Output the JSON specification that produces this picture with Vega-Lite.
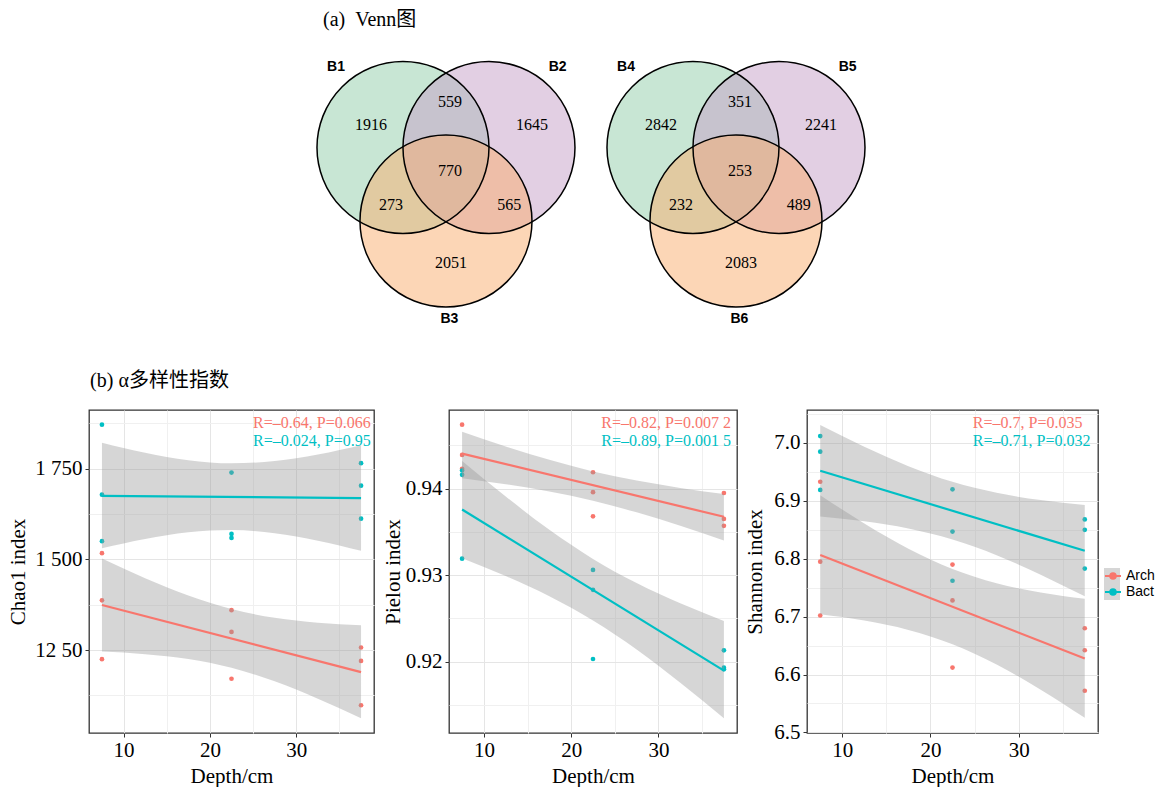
{
  "$schema": "https://vega.github.io/schema/vega-lite/v6.json",
  "background": "white",
  "padding": {"left": 7, "top": 10, "right": 0, "bottom": 0},
  "spacing": 36,
  "resolve": {"scale": {"fill": "independent"}},
  "datasets": {
    "venn": [
      {"venn": "A", "kind": "circle", "pos": "a", "x": -0.5, "y": 0},
      {"venn": "A", "kind": "circle", "pos": "b", "x": 0.5, "y": 0},
      {"venn": "A", "kind": "circle", "pos": "c", "x": 0, "y": -0.855},
      {"venn": "A", "kind": "label", "name": "B1", "x": -1.279, "y": 0.94},
      {"venn": "A", "kind": "label", "name": "B2", "x": 1.299, "y": 0.94},
      {"venn": "A", "kind": "label", "name": "B3", "x": 0.04, "y": -1.998},
      {"venn": "A", "kind": "count", "n": 1916, "x": -0.872, "y": 0.262},
      {"venn": "A", "kind": "count", "n": 559, "x": 0.047, "y": 0.526},
      {"venn": "A", "kind": "count", "n": 1645, "x": 1.0, "y": 0.262},
      {"venn": "A", "kind": "count", "n": 770, "x": 0.047, "y": -0.27},
      {"venn": "A", "kind": "count", "n": 273, "x": -0.64, "y": -0.669},
      {"venn": "A", "kind": "count", "n": 565, "x": 0.736, "y": -0.669},
      {"venn": "A", "kind": "count", "n": 2051, "x": 0.058, "y": -1.34},
      {"venn": "B", "kind": "circle", "pos": "a", "x": -0.5, "y": 0},
      {"venn": "B", "kind": "circle", "pos": "b", "x": 0.5, "y": 0},
      {"venn": "B", "kind": "circle", "pos": "c", "x": 0, "y": -0.855},
      {"venn": "B", "kind": "label", "name": "B4", "x": -1.279, "y": 0.94},
      {"venn": "B", "kind": "label", "name": "B5", "x": 1.299, "y": 0.94},
      {"venn": "B", "kind": "label", "name": "B6", "x": 0.04, "y": -1.998},
      {"venn": "B", "kind": "count", "n": 2842, "x": -0.872, "y": 0.262},
      {"venn": "B", "kind": "count", "n": 351, "x": 0.047, "y": 0.526},
      {"venn": "B", "kind": "count", "n": 2241, "x": 0.988, "y": 0.262},
      {"venn": "B", "kind": "count", "n": 253, "x": 0.047, "y": -0.27},
      {"venn": "B", "kind": "count", "n": 232, "x": -0.64, "y": -0.669},
      {"venn": "B", "kind": "count", "n": 489, "x": 0.729, "y": -0.669},
      {"venn": "B", "kind": "count", "n": 2083, "x": 0.058, "y": -1.34}
    ],
    "chao1": [
      {"group": "Arch", "depth": 7.5, "value": 1517}, {"group": "Arch", "depth": 7.5, "value": 1387}, {"group": "Arch", "depth": 7.5, "value": 1225},
      {"group": "Arch", "depth": 22.5, "value": 1360}, {"group": "Arch", "depth": 22.5, "value": 1300}, {"group": "Arch", "depth": 22.5, "value": 1171},
      {"group": "Arch", "depth": 37.5, "value": 1257}, {"group": "Arch", "depth": 37.5, "value": 1220}, {"group": "Arch", "depth": 37.5, "value": 1098},
      {"group": "Bact", "depth": 7.5, "value": 1871}, {"group": "Bact", "depth": 7.5, "value": 1678}, {"group": "Bact", "depth": 7.5, "value": 1550},
      {"group": "Bact", "depth": 22.5, "value": 1739}, {"group": "Bact", "depth": 22.5, "value": 1570}, {"group": "Bact", "depth": 22.5, "value": 1559},
      {"group": "Bact", "depth": 37.5, "value": 1765}, {"group": "Bact", "depth": 37.5, "value": 1703}, {"group": "Bact", "depth": 37.5, "value": 1612}
    ],
    "chao1_band": [
      {"group": "Arch", "depth": 7.5, "lo": 1245.9, "hi": 1502.1}, {"group": "Arch", "depth": 12.5, "lo": 1238.7, "hi": 1447.9},
      {"group": "Arch", "depth": 17.5, "lo": 1225.2, "hi": 1400.2}, {"group": "Arch", "depth": 22.5, "lo": 1201, "hi": 1363},
      {"group": "Arch", "depth": 27.5, "lo": 1163.8, "hi": 1338.8}, {"group": "Arch", "depth": 32.5, "lo": 1116.1, "hi": 1325.3},
      {"group": "Arch", "depth": 37.5, "lo": 1061.9, "hi": 1318.1},
      {"group": "Bact", "depth": 7.5, "lo": 1530.5, "hi": 1821.5}, {"group": "Bact", "depth": 12.5, "lo": 1556.0, "hi": 1793.6},
      {"group": "Bact", "depth": 17.5, "lo": 1574.3, "hi": 1773.1}, {"group": "Bact", "depth": 22.5, "lo": 1580.5, "hi": 1764.5},
      {"group": "Bact", "depth": 27.5, "lo": 1571.9, "hi": 1770.7}, {"group": "Bact", "depth": 32.5, "lo": 1551.4, "hi": 1789.0},
      {"group": "Bact", "depth": 37.5, "lo": 1523.5, "hi": 1814.5}
    ],
    "chao1_txt": [
      {"group": "Arch", "label": "R=–0.64, P=0.066", "x": 25, "y": 1875},
      {"group": "Bact", "label": "R=–0.024, P=0.95", "x": 25, "y": 1825}
    ],
    "pielou": [
      {"group": "Arch", "depth": 7.5, "value": 0.9474}, {"group": "Arch", "depth": 7.5, "value": 0.9439}, {"group": "Arch", "depth": 7.5, "value": 0.9423},
      {"group": "Arch", "depth": 22.5, "value": 0.9419}, {"group": "Arch", "depth": 22.5, "value": 0.9396}, {"group": "Arch", "depth": 22.5, "value": 0.9368},
      {"group": "Arch", "depth": 37.5, "value": 0.9395}, {"group": "Arch", "depth": 37.5, "value": 0.9365}, {"group": "Arch", "depth": 37.5, "value": 0.9357},
      {"group": "Bact", "depth": 7.5, "value": 0.9421}, {"group": "Bact", "depth": 7.5, "value": 0.9416}, {"group": "Bact", "depth": 7.5, "value": 0.9319},
      {"group": "Bact", "depth": 22.5, "value": 0.9306}, {"group": "Bact", "depth": 22.5, "value": 0.9283}, {"group": "Bact", "depth": 22.5, "value": 0.9203},
      {"group": "Bact", "depth": 37.5, "value": 0.9213}, {"group": "Bact", "depth": 37.5, "value": 0.9193}, {"group": "Bact", "depth": 37.5, "value": 0.9191}
    ],
    "pielou_band": [
      {"group": "Arch", "depth": 7.5, "lo": 0.94121, "hi": 0.94659}, {"group": "Arch", "depth": 12.5, "lo": 0.94051, "hi": 0.94489},
      {"group": "Arch", "depth": 17.5, "lo": 0.93966, "hi": 0.94334}, {"group": "Arch", "depth": 22.5, "lo": 0.9386, "hi": 0.942},
      {"group": "Arch", "depth": 27.5, "lo": 0.93726, "hi": 0.94094}, {"group": "Arch", "depth": 32.5, "lo": 0.93571, "hi": 0.94009},
      {"group": "Arch", "depth": 37.5, "lo": 0.93401, "hi": 0.93939},
      {"group": "Bact", "depth": 7.5, "lo": 0.93194, "hi": 0.9432}, {"group": "Bact", "depth": 12.5, "lo": 0.92989, "hi": 0.93909},
      {"group": "Bact", "depth": 17.5, "lo": 0.92756, "hi": 0.93524}, {"group": "Bact", "depth": 22.5, "lo": 0.92476, "hi": 0.93188},
      {"group": "Bact", "depth": 27.5, "lo": 0.9214, "hi": 0.92908}, {"group": "Bact", "depth": 32.5, "lo": 0.91755, "hi": 0.92675},
      {"group": "Bact", "depth": 37.5, "lo": 0.91344, "hi": 0.9247}
    ],
    "pielou_txt": [
      {"group": "Arch", "label": "R=–0.82, P=0.007 2", "x": 23.45, "y": 0.9476},
      {"group": "Bact", "label": "R=–0.89, P=0.001 5", "x": 23.45, "y": 0.9455}
    ],
    "shannon": [
      {"group": "Arch", "depth": 7.5, "value": 6.933}, {"group": "Arch", "depth": 7.5, "value": 6.795}, {"group": "Arch", "depth": 7.5, "value": 6.702},
      {"group": "Arch", "depth": 22.5, "value": 6.79}, {"group": "Arch", "depth": 22.5, "value": 6.728}, {"group": "Arch", "depth": 22.5, "value": 6.612},
      {"group": "Arch", "depth": 37.5, "value": 6.68}, {"group": "Arch", "depth": 37.5, "value": 6.642}, {"group": "Arch", "depth": 37.5, "value": 6.572},
      {"group": "Bact", "depth": 7.5, "value": 7.012}, {"group": "Bact", "depth": 7.5, "value": 6.985}, {"group": "Bact", "depth": 7.5, "value": 6.919},
      {"group": "Bact", "depth": 22.5, "value": 6.92}, {"group": "Bact", "depth": 22.5, "value": 6.847}, {"group": "Bact", "depth": 22.5, "value": 6.762},
      {"group": "Bact", "depth": 37.5, "value": 6.868}, {"group": "Bact", "depth": 37.5, "value": 6.85}, {"group": "Bact", "depth": 37.5, "value": 6.783}
    ],
    "shannon_band": [
      {"group": "Arch", "depth": 7.5, "lo": 6.7042, "hi": 6.9098}, {"group": "Arch", "depth": 12.5, "lo": 6.6933, "hi": 6.8611},
      {"group": "Arch", "depth": 17.5, "lo": 6.6771, "hi": 6.8175}, {"group": "Arch", "depth": 22.5, "lo": 6.6525, "hi": 6.7825},
      {"group": "Arch", "depth": 27.5, "lo": 6.6175, "hi": 6.7579}, {"group": "Arch", "depth": 32.5, "lo": 6.5739, "hi": 6.7417},
      {"group": "Arch", "depth": 37.5, "lo": 6.5252, "hi": 6.7308},
      {"group": "Bact", "depth": 7.5, "lo": 6.8731, "hi": 7.0309}, {"group": "Bact", "depth": 12.5, "lo": 6.8646, "hi": 6.9934},
      {"group": "Bact", "depth": 17.5, "lo": 6.8521, "hi": 6.9599}, {"group": "Bact", "depth": 22.5, "lo": 6.8331, "hi": 6.9329},
      {"group": "Bact", "depth": 27.5, "lo": 6.8061, "hi": 6.9139}, {"group": "Bact", "depth": 32.5, "lo": 6.7726, "hi": 6.9014},
      {"group": "Bact", "depth": 37.5, "lo": 6.7351, "hi": 6.8929}
    ],
    "shannon_txt": [
      {"group": "Arch", "label": "R=–0.7, P=0.035", "x": 24.8, "y": 7.0345},
      {"group": "Bact", "label": "R=–0.71, P=0.032", "x": 24.8, "y": 7.0028}
    ]
  },
  "vconcat": [
    {
      "title": {"text": "(a)\u00a0\u00a0Venn图", "fontSize": 20, "dx": 234, "offset": 20},
      "spacing": 0,
      "hconcat": [
        {
          "width": 500, "height": 285,
          "data": {"name": "venn"},
          "transform": [{"filter": "datum.venn == 'A'"}],
          "encoding": {
            "x": {"field": "x", "type": "quantitative", "scale": {"domain": [-4.151, 1.663], "nice": false, "zero": false}, "axis": null},
            "y": {"field": "y", "type": "quantitative", "scale": {"domain": [-2.18, 1.134], "nice": false, "zero": false}, "axis": null}
          },
          "layer": [
            {"transform": [{"filter": "datum.kind == 'circle'"}], "mark": {"type": "point", "shape": "circle", "size": 29584, "filled": true, "opacity": 1, "fillOpacity": 0.5, "strokeWidth": 0},
             "encoding": {"fill": {"field": "pos", "type": "nominal", "scale": {"domain": ["a", "b", "c"], "range": ["#91cda9", "#c59fc7", "#f9ad6d"]}, "legend": null}}},
            {"transform": [{"filter": "datum.kind == 'circle'"}], "mark": {"type": "point", "shape": "circle", "size": 29584, "filled": false, "opacity": 1, "stroke": "#000000", "strokeWidth": 1.5}},
            {"transform": [{"filter": "datum.kind == 'label'"}], "mark": {"type": "text", "font": "Liberation Sans", "fontWeight": "bold", "fontSize": 14, "color": "#000000"}, "encoding": {"text": {"field": "name"}}},
            {"transform": [{"filter": "datum.kind == 'count'"}], "mark": {"type": "text", "font": "Liberation Serif", "fontSize": 16, "color": "#000000"}, "encoding": {"text": {"field": "n", "type": "quantitative", "format": "d"}}}
          ]
        },
        {
          "width": 560, "height": 285,
          "data": {"name": "venn"},
          "transform": [{"filter": "datum.venn == 'B'"}],
          "encoding": {
            "x": {"field": "x", "type": "quantitative", "scale": {"domain": [-1.709, 4.802], "nice": false, "zero": false}, "axis": null},
            "y": {"field": "y", "type": "quantitative", "scale": {"domain": [-2.18, 1.134], "nice": false, "zero": false}, "axis": null}
          },
          "layer": [
            {"transform": [{"filter": "datum.kind == 'circle'"}], "mark": {"type": "point", "shape": "circle", "size": 29584, "filled": true, "opacity": 1, "fillOpacity": 0.5, "strokeWidth": 0},
             "encoding": {"fill": {"field": "pos", "type": "nominal", "scale": {"domain": ["a", "b", "c"], "range": ["#91cda9", "#c59fc7", "#f9ad6d"]}, "legend": null}}},
            {"transform": [{"filter": "datum.kind == 'circle'"}], "mark": {"type": "point", "shape": "circle", "size": 29584, "filled": false, "opacity": 1, "stroke": "#000000", "strokeWidth": 1.5}},
            {"transform": [{"filter": "datum.kind == 'label'"}], "mark": {"type": "text", "font": "Liberation Sans", "fontWeight": "bold", "fontSize": 14, "color": "#000000"}, "encoding": {"text": {"field": "name"}}},
            {"transform": [{"filter": "datum.kind == 'count'"}], "mark": {"type": "text", "font": "Liberation Serif", "fontSize": 16, "color": "#000000"}, "encoding": {"text": {"field": "n", "type": "quantitative", "format": "d"}}}
          ]
        }
      ]
    },
    {
      "title": {"text": "(b) α多样性指数", "fontSize": 20, "dx": 83, "offset": 18},
      "spacing": 6,
      "hconcat": [
        {
          "width": 285, "height": 323,
          "view": {"stroke": "#333333", "strokeWidth": 1.3},
          "resolve": {"axis": {"x": "independent", "y": "independent"}},
          "layer": [
            {"data": {"name": "chao1"},
             "mark": {"type": "point", "shape": "circle", "filled": true, "size": 22, "opacity": 1},
             "encoding": {
               "x": {"field": "depth", "type": "quantitative", "scale": {"domain": [6, 39], "nice": false, "zero": false}, "axis": {"values": [10, 20, 30], "format": "d", "title": "Depth/cm", "titlePadding": 5, "labelPadding": 2}},
               "y": {"field": "value", "type": "quantitative", "scale": {"domain": [1021.5, 1911.4], "nice": false, "zero": false}, "axis": {"values": [1250, 1500, 1750], "labelExpr": "datum.value == 1250 ? '12 50' : (datum.value == 1500 ? '1 500' : '1 750')", "title": "Chao1 index", "titlePadding": 6}},
               "color": {"field": "group", "type": "nominal", "scale": {"domain": ["Arch", "Bact"], "range": ["#F8766D", "#00BFC4"]},
                 "legend": {"title": null, "orient": "none", "legendX": 1015, "legendY": 517, "symbolType": "M -1 0 L 1 0 M -0.35 0 A 0.35 0.35 0 1 0 0.35 0 A 0.35 0.35 0 1 0 -0.35 0 Z", "symbolSize": 256, "symbolStrokeWidth": 2, "symbolOpacity": 1, "labelFont": "Liberation Sans", "labelFontSize": 14, "labelColor": "#000000", "labelOffset": 4, "rowPadding": 0, "padding": 0, "zindex": 2,
                   "encode": {"symbols": {"update": {"fill": {"scale": "color", "field": "value"}, "stroke": {"scale": "color", "field": "value"}}}}}}
             }},
            {"data": {"name": "chao1_band"},
             "mark": {"type": "area", "interpolate": "monotone", "opacity": 0.4},
             "encoding": {
               "x": {"field": "depth", "type": "quantitative", "axis": {"orient": "top", "values": [15, 25, 35], "labels": false, "ticks": false, "domain": false, "grid": true, "gridColor": "#f0f0f0", "title": null}},
               "y": {"field": "lo", "type": "quantitative", "axis": {"orient": "right", "values": [1125, 1375, 1625, 1875], "labels": false, "ticks": false, "domain": false, "grid": true, "gridColor": "#f0f0f0", "title": null}},
               "y2": {"field": "hi"},
               "fill": {"field": "group", "type": "nominal", "scale": {"domain": ["Arch", "Bact"], "range": ["#999999", "#999999"]},
                 "legend": {"title": null, "orient": "none", "legendX": 1015, "legendY": 158, "symbolType": "square", "symbolSize": 256, "symbolOpacity": 0.4, "symbolStrokeWidth": 0, "labelColor": "transparent", "labelFont": "Liberation Sans", "labelFontSize": 14, "labelOffset": 4, "rowPadding": 0, "padding": 0, "zindex": 1}}
             }},
            {"data": {"name": "chao1"},
             "transform": [{"regression": "value", "on": "depth", "groupby": ["group"]}],
             "mark": {"type": "line", "strokeWidth": 2.2},
             "encoding": {"x": {"field": "depth", "type": "quantitative", "axis": null}, "y": {"field": "value", "type": "quantitative", "axis": null}, "color": {"field": "group", "type": "nominal"}}},
            {"data": {"name": "chao1_txt"},
             "mark": {"type": "text", "align": "left", "baseline": "middle", "font": "Liberation Serif", "fontSize": 16},
             "encoding": {"x": {"field": "x", "type": "quantitative", "axis": null}, "y": {"field": "y", "type": "quantitative", "axis": null}, "text": {"field": "label"}, "color": {"field": "group", "type": "nominal"}}}
          ]
        },
        {
          "width": 288, "height": 323,
          "view": {"stroke": "#333333", "strokeWidth": 1.3},
          "resolve": {"axis": {"x": "independent", "y": "independent"}},
          "layer": [
            {"data": {"name": "pielou"},
             "mark": {"type": "point", "shape": "circle", "filled": true, "size": 22, "opacity": 1},
             "encoding": {
               "x": {"field": "depth", "type": "quantitative", "scale": {"domain": [6, 39], "nice": false, "zero": false}, "axis": {"values": [10, 20, 30], "format": "d", "title": "Depth/cm", "titlePadding": 5, "labelPadding": 2}},
               "y": {"field": "value", "type": "quantitative", "scale": {"domain": [0.91174, 0.9491], "nice": false, "zero": false}, "axis": {"values": [0.92, 0.93, 0.94], "format": ".2f", "title": "Pielou index", "titlePadding": 2}},
               "color": {"field": "group", "type": "nominal"}
             }},
            {"data": {"name": "pielou_band"},
             "mark": {"type": "area", "interpolate": "monotone", "opacity": 0.4},
             "encoding": {
               "x": {"field": "depth", "type": "quantitative", "axis": {"orient": "top", "values": [15, 25, 35], "labels": false, "ticks": false, "domain": false, "grid": true, "gridColor": "#f0f0f0", "title": null}},
               "y": {"field": "lo", "type": "quantitative", "axis": {"orient": "right", "values": [0.915, 0.925, 0.935, 0.945], "labels": false, "ticks": false, "domain": false, "grid": true, "gridColor": "#f0f0f0", "title": null}},
               "y2": {"field": "hi"},
               "fill": {"field": "group", "type": "nominal"}
             }},
            {"data": {"name": "pielou"},
             "transform": [{"regression": "value", "on": "depth", "groupby": ["group"]}],
             "mark": {"type": "line", "strokeWidth": 2.2},
             "encoding": {"x": {"field": "depth", "type": "quantitative", "axis": null}, "y": {"field": "value", "type": "quantitative", "axis": null}, "color": {"field": "group", "type": "nominal"}}},
            {"data": {"name": "pielou_txt"},
             "mark": {"type": "text", "align": "left", "baseline": "middle", "font": "Liberation Serif", "fontSize": 16},
             "encoding": {"x": {"field": "x", "type": "quantitative", "axis": null}, "y": {"field": "y", "type": "quantitative", "axis": null}, "text": {"field": "label"}, "color": {"field": "group", "type": "nominal"}}}
          ]
        },
        {
          "width": 291, "height": 323,
          "view": {"stroke": "#333333", "strokeWidth": 1.3},
          "resolve": {"axis": {"x": "independent", "y": "independent"}},
          "layer": [
            {"data": {"name": "shannon"},
             "mark": {"type": "point", "shape": "circle", "filled": true, "size": 22, "opacity": 1},
             "encoding": {
               "x": {"field": "depth", "type": "quantitative", "scale": {"domain": [6, 39], "nice": false, "zero": false}, "axis": {"values": [10, 20, 30], "format": "d", "title": "Depth/cm", "titlePadding": 5, "labelPadding": 2}},
               "y": {"field": "value", "type": "quantitative", "scale": {"domain": [6.499, 7.057], "nice": false, "zero": false}, "axis": {"values": [6.5, 6.6, 6.7, 6.8, 6.9, 7.0], "format": ".1f", "title": "Shannon index", "titlePadding": 8}},
               "color": {"field": "group", "type": "nominal"}
             }},
            {"data": {"name": "shannon_band"},
             "mark": {"type": "area", "interpolate": "monotone", "opacity": 0.4},
             "encoding": {
               "x": {"field": "depth", "type": "quantitative", "axis": {"orient": "top", "values": [15, 25, 35], "labels": false, "ticks": false, "domain": false, "grid": true, "gridColor": "#f0f0f0", "title": null}},
               "y": {"field": "lo", "type": "quantitative", "axis": {"orient": "right", "values": [6.55, 6.65, 6.75, 6.85, 6.95, 7.05], "labels": false, "ticks": false, "domain": false, "grid": true, "gridColor": "#f0f0f0", "title": null}},
               "y2": {"field": "hi"},
               "fill": {"field": "group", "type": "nominal"}
             }},
            {"data": {"name": "shannon"},
             "transform": [{"regression": "value", "on": "depth", "groupby": ["group"]}],
             "mark": {"type": "line", "strokeWidth": 2.2},
             "encoding": {"x": {"field": "depth", "type": "quantitative", "axis": null}, "y": {"field": "value", "type": "quantitative", "axis": null}, "color": {"field": "group", "type": "nominal"}}},
            {"data": {"name": "shannon_txt"},
             "mark": {"type": "text", "align": "left", "baseline": "middle", "font": "Liberation Serif", "fontSize": 16},
             "encoding": {"x": {"field": "x", "type": "quantitative", "axis": null}, "y": {"field": "y", "type": "quantitative", "axis": null}, "text": {"field": "label"}, "color": {"field": "group", "type": "nominal"}}}
          ]
        }
      ]
    }
  ],
  "config": {
    "view": {"stroke": null},
    "font": "Liberation Serif",
    "axis": {"labelFont": "Liberation Serif", "labelFontSize": 21, "labelColor": "#000000", "titleFont": "Liberation Serif", "titleFontSize": 21, "titleFontWeight": "normal", "titleColor": "#000000", "tickColor": "#333333", "tickSize": 4, "tickWidth": 1, "domain": false, "gridColor": "#e5e5e5", "gridWidth": 1, "labelPadding": 3},
    "title": {"font": "Liberation Serif, Noto Sans CJK SC", "fontWeight": "normal", "color": "#000000", "anchor": "start"}
  }
}
